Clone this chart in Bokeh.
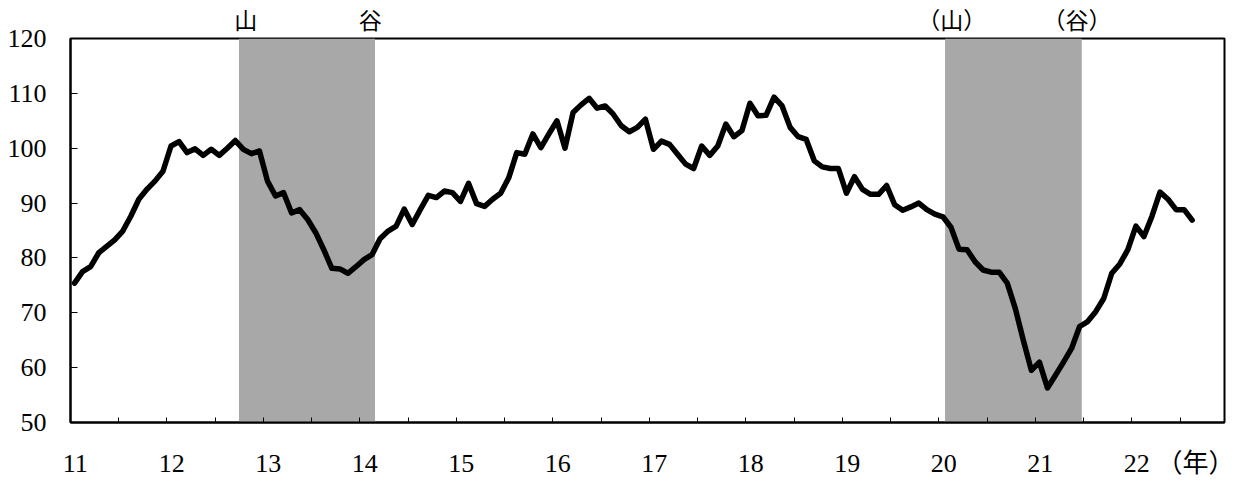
from bokeh.plotting import figure
from bokeh.models import FixedTicker, LinearAxis
from bokeh.embed import file_html
from bokeh.resources import INLINE

# ---- data (monthly index, Jan 2011 .. Aug 2022) ----
index_values = [
    75.4, 77.5, 78.4, 80.9, 82.1, 83.3, 84.9, 87.6, 90.7, 92.5, 94.0, 95.8,      # 2011
    100.4, 101.2, 99.2, 99.9, 98.7, 99.8, 98.7, 100.0, 101.4, 99.8, 99.0, 99.5,  # 2012
    94.0, 91.3, 91.9, 88.2, 88.8, 87.0, 84.6, 81.5, 78.1, 78.0, 77.2, 78.4,      # 2013
    79.7, 80.6, 83.5, 84.9, 85.8, 88.9, 86.1, 88.8, 91.4, 91.0, 92.2, 91.9,      # 2014
    90.3, 93.6, 89.9, 89.4, 90.7, 91.8, 94.6, 99.2, 98.9, 102.6, 100.1, 102.6,   # 2015
    105.0, 100.0, 106.5, 107.9, 109.1, 107.3, 107.7, 106.2, 104.1, 103.0, 103.8, 105.3,  # 2016
    99.8, 101.3, 100.7, 98.9, 97.1, 96.3, 100.4, 98.7, 100.4, 104.4, 102.1, 103.2,  # 2017
    108.2, 105.9, 106.0, 109.3, 107.7, 103.8, 102.1, 101.6, 97.7, 96.6, 96.3, 96.3,  # 2018
    91.8, 94.8, 92.5, 91.6, 91.6, 93.2, 89.7, 88.7, 89.3, 90.0, 88.8, 88.0,      # 2019
    87.5, 85.6, 81.6, 81.5, 79.3, 77.8, 77.4, 77.4, 75.4, 70.8, 65.0, 59.5,      # 2020
    61.0, 56.3, 58.6, 61.0, 63.5, 67.5, 68.4, 70.2, 72.6, 77.2, 78.9, 81.5,      # 2021
    85.8, 83.9, 87.6, 92.0, 90.7, 88.8, 88.8, 86.9,                              # 2022
]
first_year = 11
month_x = [first_year + (m + 0.5) / 12 for m in range(len(index_values))]

# recession bands (peak -> trough), in years
band_start = [12.746, 20.064]
band_end = [14.156, 21.481]
peak_labels = ["山", "（山）"]
trough_labels = ["谷", "（谷）"]

year_ticks = list(range(11, 23))
year_labels = [str(y) for y in year_ticks]
half_year_ticks = [y + h for y in year_ticks for h in (0.0, 0.5)]
y_ticks = [50, 60, 70, 80, 90, 100, 110, 120]
unit_label = "（年）"

Y_MIN, Y_MAX = 50, 120
X_MIN, X_MAX = 11, 22.96

MIXED_FONT = "'Liberation Serif', 'Noto Sans CJK JP'"

p = figure(
    width=1234, height=481,
    x_range=(X_MIN, X_MAX), y_range=(Y_MIN, Y_MAX),
    output_backend="svg", toolbar_location=None,
    min_border_left=70, min_border_right=10, min_border_top=38, min_border_bottom=59,
)
p.xgrid.visible = False
p.ygrid.visible = False
p.background_fill_color = "white"
p.border_fill_color = "white"
p.outline_line_color = "black"
p.outline_line_width = 2

# shaded recession periods
p.quad(left=band_start, right=band_end,
       bottom=[Y_MIN] * len(band_start), top=[Y_MAX] * len(band_start),
       fill_color="#a8a8a8", line_color=None)

# index line
p.line(month_x, index_values, line_color="black", line_width=5.5,
       line_join="round", line_cap="round")

# y axis
p.yaxis.ticker = FixedTicker(ticks=y_ticks)
p.yaxis.minor_tick_line_color = None
p.yaxis.major_tick_in = 7
p.yaxis.major_tick_out = 0
p.yaxis.major_tick_line_color = "black"
p.yaxis.axis_line_color = "black"
p.yaxis.axis_line_width = 2
p.yaxis.major_label_standoff = 24
p.yaxis.major_label_text_font = "Liberation Serif"
p.yaxis.major_label_text_font_size = "26px"
p.yaxis.major_label_text_color = "black"

# x axis: half-year ticks inside, no labels
p.xaxis.ticker = FixedTicker(ticks=half_year_ticks)
p.xaxis.minor_tick_line_color = None
p.xaxis.major_tick_in = 5
p.xaxis.major_tick_out = 0
p.xaxis.major_tick_line_color = "black"
p.xaxis.axis_line_color = "black"
p.xaxis.axis_line_width = 2
p.xaxis.major_label_overrides = {t: "" for t in half_year_ticks}
p.xaxis.major_label_standoff = 0
p.xaxis.major_label_text_font_size = "1px"

# second below axis carrying the year labels (slightly right of ticks) and unit
label_pos = [y + 0.05 for y in year_ticks] + [year_ticks[-1] + 0.72]
label_txt = year_labels + [unit_label]
lab_axis = LinearAxis(ticker=FixedTicker(ticks=label_pos),
                      major_label_overrides=dict(zip(label_pos, label_txt)))
lab_axis.axis_line_color = None
lab_axis.major_tick_line_color = None
lab_axis.minor_tick_line_color = None
lab_axis.major_tick_in = 0
lab_axis.major_tick_out = 0
lab_axis.major_label_standoff = 26
lab_axis.major_label_text_font = MIXED_FONT
lab_axis.major_label_text_font_size = "26px"
lab_axis.major_label_text_color = "black"
p.add_layout(lab_axis, "below")

# top axis carrying the peak / trough marks
mark_pos = []
mark_txt = []
for s, e, pl, tl in zip(band_start, band_end, peak_labels, trough_labels):
    mark_pos += [s + 0.07, e - 0.05]
    mark_txt += [pl, tl]
top_axis = LinearAxis(ticker=FixedTicker(ticks=mark_pos),
                      major_label_overrides=dict(zip(mark_pos, mark_txt)))
top_axis.axis_line_color = None
top_axis.major_tick_line_color = None
top_axis.minor_tick_line_color = None
top_axis.major_tick_in = 0
top_axis.major_tick_out = 0
top_axis.major_label_standoff = 5
top_axis.major_label_text_font = MIXED_FONT
top_axis.major_label_text_font_size = "23px"
top_axis.major_label_text_color = "black"
p.add_layout(top_axis, "above")

open("out.html", "w").write(file_html(p, INLINE))
